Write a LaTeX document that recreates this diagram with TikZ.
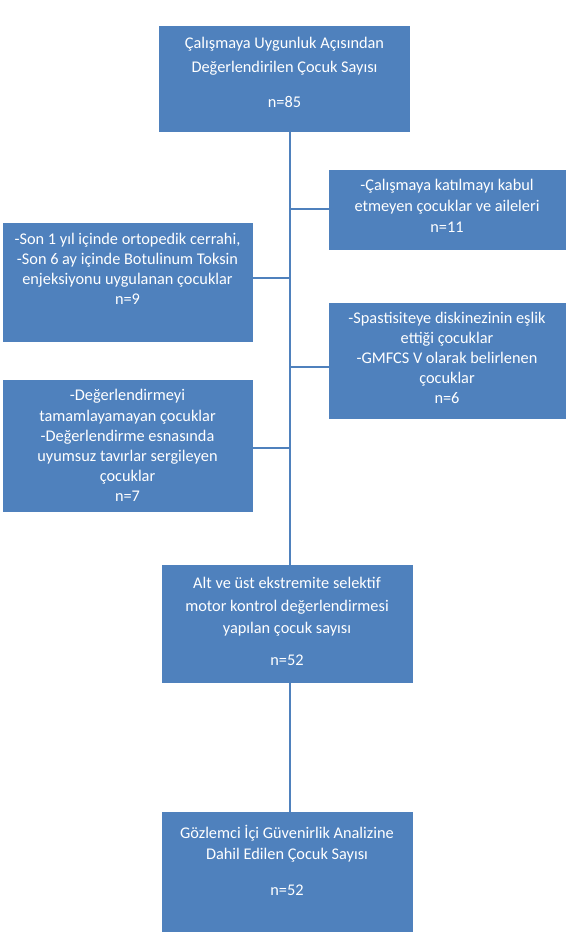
\documentclass[tikz,border=0pt]{standalone}
\usepackage{fontspec}
\setmainfont{Carlito}
\usepackage{xcolor}
\definecolor{boxBlue}{RGB}{79,129,189}

\begin{document}
\begin{tikzpicture}[
    x=0.025cm, y=-0.025cm,
    box/.style={rectangle, draw=boxBlue, fill=boxBlue, text=white, align=center, inner sep=0pt, font=\fontsize{11.6}{14.3}\selectfont},
    mainbox/.style={box, minimum width=6.25cm},
    sidebox/.style={box, minimum width=5.9cm},
    leftbox/.style={box, minimum width=6.225cm},
    link/.style={draw=boxBlue, line width=2.1pt}
]
\useasboundingbox (0,0) rectangle (578,946);

\node[mainbox, minimum height=2.625cm, text depth=8.5pt] (count) at (284.5,78.5)
    {Çalışmaya Uygunluk Açısından\\[2.7pt]Değerlendirilen Çocuk Sayısı\\[10.6pt]n=85};
\node[sidebox, minimum height=1.975cm, text depth=5pt] (refused) at (447,209.5)
    {-Çalışmaya katılmayı kabul\\[0.7pt]etmeyen çocuklar ve aileleri\\[0.7pt]n=11};
\node[leftbox, minimum height=2.95cm, text depth=18.5pt] (surgery) at (127.5,282)
    {-Son 1 yıl içinde ortopedik cerrahi,\\-Son 6 ay içinde Botulinum Toksin\\enjeksiyonu uygulanan çocuklar\\n=9};
\node[sidebox, minimum height=2.875cm, text depth=3.5pt] (gmfcs) at (447,360.5)
    {-Spastisiteye diskinezinin eşlik\\ettiği çocuklar\\-GMFCS V olarak belirlenen\\çocuklar\\n=6};
\node[leftbox, minimum height=3.275cm] (incomplete) at (127.5,445.5)
    {-Değerlendirmeyi\\tamamlayamayan çocuklar\\-Değerlendirme esnasında\\uyumsuz tavırlar sergileyen\\çocuklar\\n=7};
\node[mainbox, minimum height=2.925cm, text depth=3pt] (assessed) at (287,623.5)
    {Alt ve üst ekstremite selektif\\[1.7pt]motor kontrol değerlendirmesi\\[1.7pt]yapılan çocuk sayısı\\[8.5pt]n=52};
\node[mainbox, minimum height=2.975cm, text depth=15.6pt] (reliability) at (287,871.5)
    {Gözlemci İçi Güvenirlik Analizine\\[0.7pt]Dahil Edilen Çocuk Sayısı\\[11.3pt]n=52};

% trunk
\coordinate (trunk) at (290,0);
\draw[link] (count.south -| trunk) -- (assessed.north -| trunk);
\draw[link] (assessed.south -| trunk) -- (reliability.north -| trunk);

% side branches
\coordinate (j1) at (290,209);
\coordinate (j2) at (290,278);
\coordinate (j3) at (290,367);
\coordinate (j4) at (290,448);
\draw[link] (j1) -- (j1 -| refused.west);
\draw[link] (j2) -- (j2 -| surgery.east);
\draw[link] (j3) -- (j3 -| gmfcs.west);
\draw[link] (j4) -- (j4 -| incomplete.east);
\end{tikzpicture}
\end{document}
